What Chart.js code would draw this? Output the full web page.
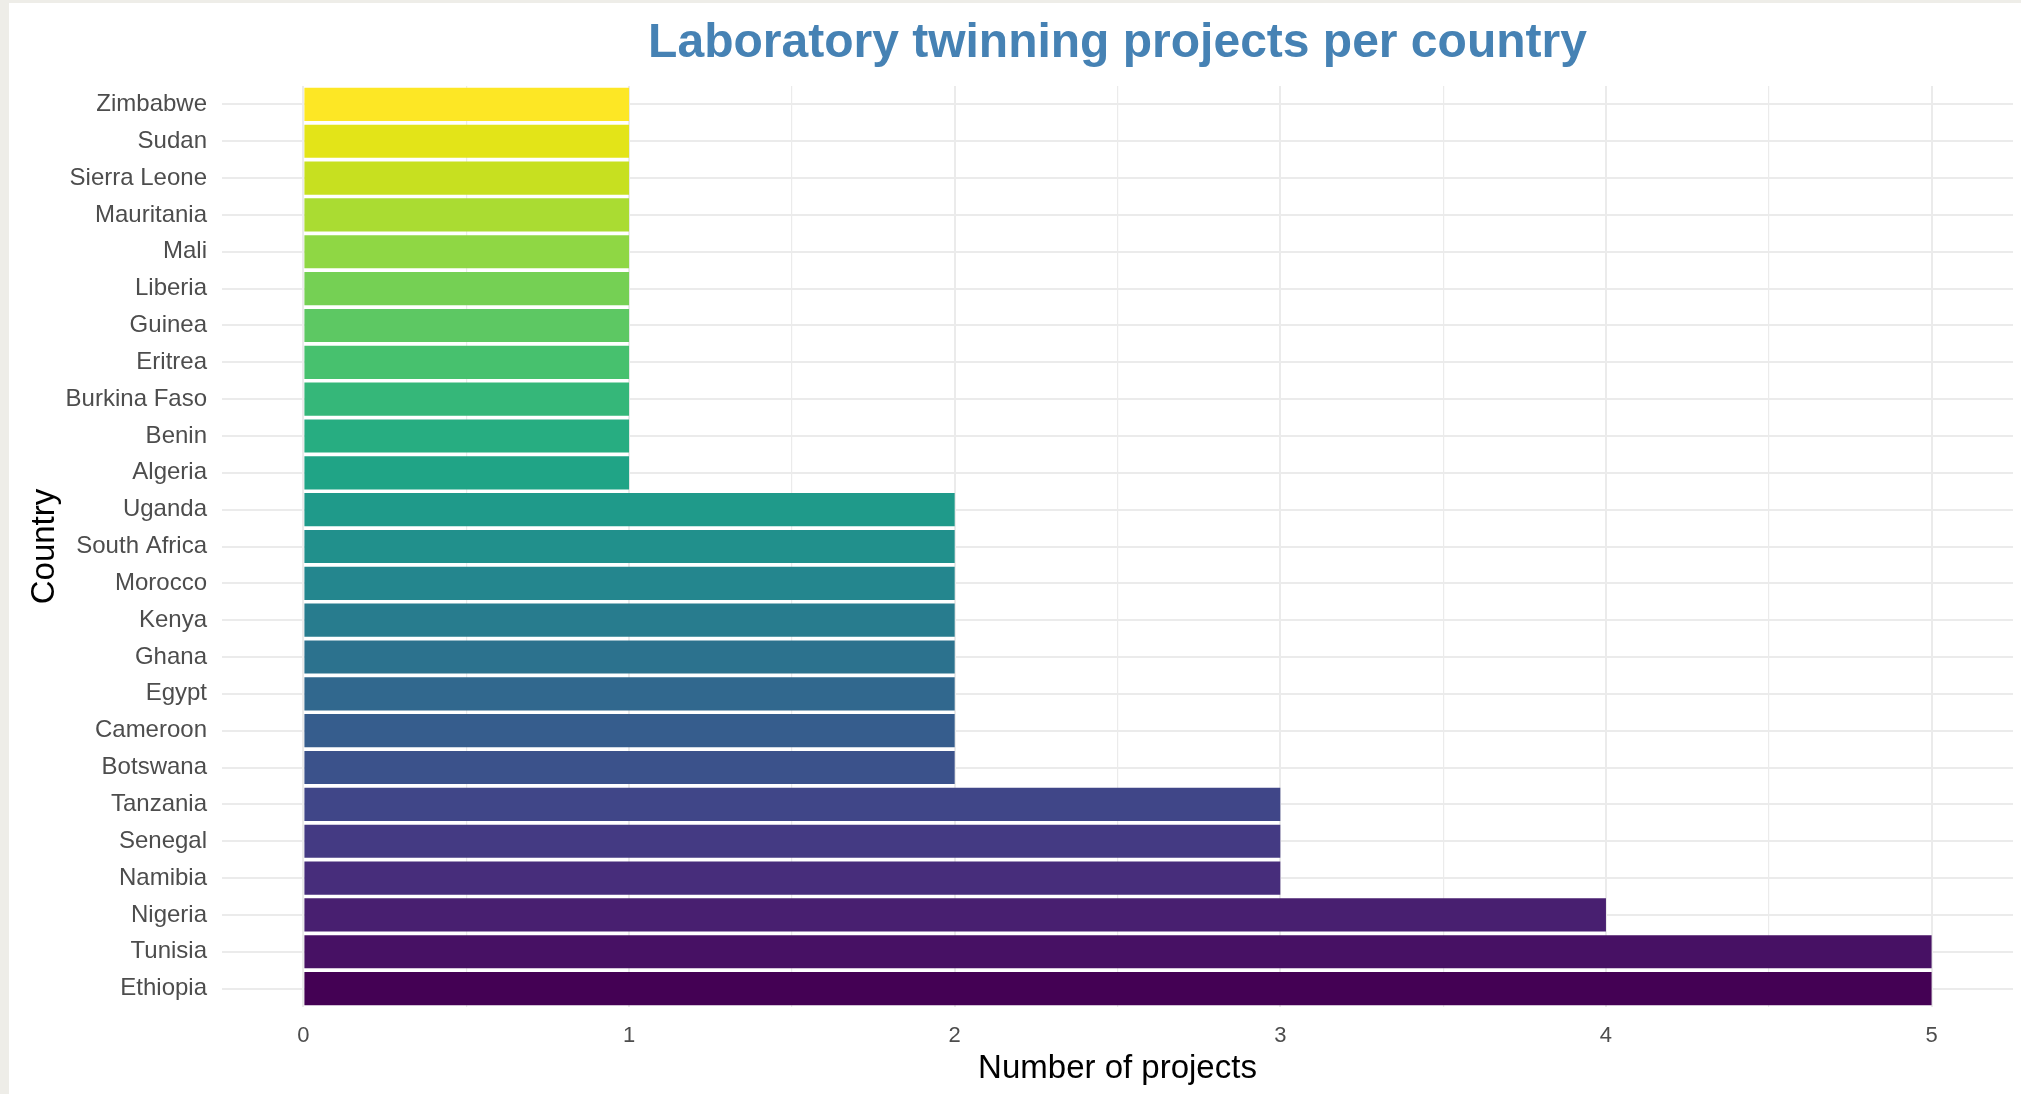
<!DOCTYPE html>
<html>
<head>
<meta charset="utf-8">
<title>Laboratory twinning projects per country</title>
<script src="https://cdn.jsdelivr.net/npm/chart.js@4.4.1/dist/chart.umd.min.js"></script>
<style>
  html, body { margin: 0; padding: 0; background: #eeede8; }
  #wrap { position: absolute; left: 9px; top: 3px; width: 2012px; height: 1091px; background: #fff; }
</style>
</head>
<body>
<div id="wrap"><canvas id="chart" width="2012" height="1091"></canvas></div>
<script>
// bottom to top, same order as the factor levels
const countries = [
  'Ethiopia', 'Tunisia', 'Nigeria', 'Namibia', 'Senegal', 'Tanzania',
  'Botswana', 'Cameroon', 'Egypt', 'Ghana', 'Kenya', 'Morocco', 'South Africa', 'Uganda',
  'Algeria', 'Benin', 'Burkina Faso', 'Eritrea', 'Guinea', 'Liberia', 'Mali',
  'Mauritania', 'Sierra Leone', 'Sudan', 'Zimbabwe'
];
const projects = [5, 5, 4, 3, 3, 3, 2, 2, 2, 2, 2, 2, 2, 2, 1, 1, 1, 1, 1, 1, 1, 1, 1, 1, 1];
const xTicks = [0, 1, 2, 3, 4, 5];
const xGrid = [0, 0.5, 1, 1.5, 2, 2.5, 3, 3.5, 4, 4.5, 5];

// viridis(25)
const barColors = [
  '#440154', '#471164', '#481F70', '#472D7B', '#443A83', '#404688', '#3B528B',
  '#365D8D', '#31688E', '#2C728E', '#287C8E', '#24868E', '#21908C', '#1F9A8A',
  '#20A486', '#27AD81', '#35B779', '#47C16E', '#5DC863', '#75D054', '#8FD744',
  '#AADC32', '#C7E020', '#E3E418', '#FDE725'
];

const gridColor = '#ebebeb';
const fontFamily = '"Liberation Sans", Arial, sans-serif';

new Chart(document.getElementById('chart').getContext('2d'), {
  type: 'bar',
  data: {
    labels: countries,
    datasets: [{
      data: projects,
      backgroundColor: barColors,
      borderWidth: 0,
      barPercentage: 0.9,
      categoryPercentage: 1
    }]
  },
  options: {
    indexAxis: 'y',
    responsive: false,
    animation: false,
    layout: { padding: { top: 0, right: 8, bottom: 0, left: 0 } },
    plugins: {
      legend: { display: false },
      tooltip: { enabled: false },
      title: {
        display: true,
        text: 'Laboratory twinning projects per country',
        color: '#4682b4',
        fullSize: false,
        font: { family: fontFamily, size: 48, weight: 'bold', lineHeight: 1.2 },
        padding: { top: 12, bottom: 13.4 }
      }
    },
    scales: {
      x: {
        type: 'linear',
        min: -0.25,
        max: 5.25,
        afterBuildTicks: scale => {
          scale.ticks = xGrid.map(v => ({ value: v }));
        },
        afterFit: scale => { scale.height = 87; },
        border: { display: false },
        grid: {
          color: gridColor,
          lineWidth: ctx => (xTicks.includes(ctx.tick.value) ? 2 : 1.2),
          drawTicks: false
        },
        ticks: {
          padding: 16,
          color: '#4d4d4d',
          font: { family: fontFamily, size: 22 },
          callback: v => (xTicks.includes(v) ? String(v) : '')
        },
        title: {
          display: true,
          text: 'Number of projects',
          color: '#000',
          font: { family: fontFamily, size: 33 },
          padding: { top: 0, bottom: 5 }
        }
      },
      y: {
        reverse: true,
        afterFit: scale => { scale.width = 213; },
        border: { display: false },
        grid: {
          color: gridColor,
          lineWidth: 2,
          offset: false,
          drawTicks: false
        },
        ticks: {
          padding: 15,
          color: '#4d4d4d',
          autoSkip: false,
          font: { family: fontFamily, size: 24 }
        },
        title: {
          display: true,
          text: 'Country',
          color: '#000',
          font: { family: fontFamily, size: 33 },
          padding: { top: 16, bottom: 0 }
        }
      }
    }
  }
});
</script>
</body>
</html>
